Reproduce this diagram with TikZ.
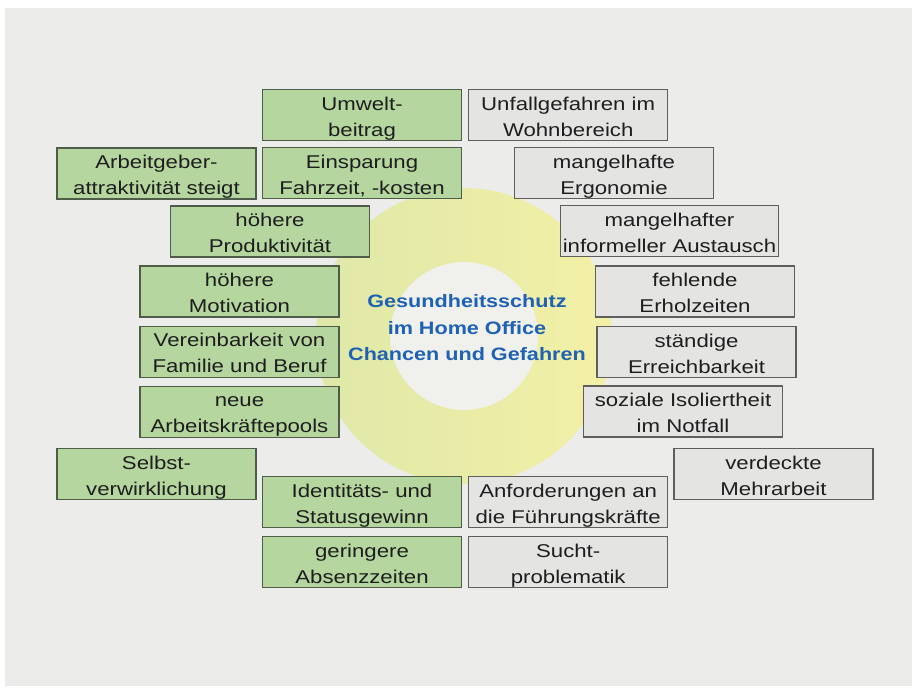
\documentclass[tikz,border=0pt]{standalone}
\usepackage{fontspec}
\setmainfont{Liberation Sans}[FakeStretch=1.2]
\usepackage{tikz}
\usetikzlibrary{positioning}
\definecolor{pagegray}{HTML}{ECEDEA}
\definecolor{chancegreen}{HTML}{B5D69F}
\definecolor{chanceline}{HTML}{4F5C49}
\definecolor{riskgray}{HTML}{E4E5E3}
\definecolor{riskline}{HTML}{5E5F5D}
\definecolor{ringyellow}{HTML}{F3F0A6}
\definecolor{ringgreen}{HTML}{DFE8A9}
\definecolor{innerwhite}{HTML}{F0F0EC}
\definecolor{titleblue}{HTML}{1F62B4}
\definecolor{boxtext}{HTML}{1E1E1E}

\begin{document}
\begin{tikzpicture}[
    x=1pt, y=-1pt,
    node distance=8pt and 6pt,
    box/.style={draw, line width=1.2pt, minimum width=199pt, minimum height=51pt, inner sep=0pt, text height=46pt, text depth=4pt, align=center, font=\fontsize{18.5}{26}\selectfont, text=boxtext},
    chance/.style={box, fill=chancegreen, draw=chanceline},
    risk/.style={box, fill=riskgray, draw=riskline},
    thema/.style={align=center, font=\fontsize{18}{26.5}\selectfont\bfseries, text=titleblue},
]
    % Background and ring
    \useasboundingbox (0,0) rectangle (915,688);
    \fill[white] (0,0) rectangle (915,688);
    \fill[pagegray] (5,8) rectangle (912,686);
    \shade[left color=ringgreen, right color=ringyellow] (464,336) circle[radius=148pt];
    \fill[innerwhite] (464,336) circle[radius=74pt];

    % Chances (left, green)
    \node[chance] (umwelt) at (362,115) {Umwelt-\\beitrag};
    \node[chance, below=6pt of umwelt] (einsparung) {Einsparung\\Fahrzeit, -kosten};
    \node[chance] (arbeitgeber) at (156.5,173.5) {Arbeitgeber-\\attraktivität steigt};
    \node[chance] (produktivitaet) at (270,231.5) {höhere\\Produktivität};
    \node[chance] (motivation) at (239.5,291.5) {höhere\\Motivation};
    \node[chance, below=of motivation] (vereinbarkeit) {Vereinbarkeit von\\Familie und Beruf};
    \node[chance, below=of vereinbarkeit] (pools) {neue\\Arbeitskräftepools};
    \node[chance] (selbst) at (156.5,474) {Selbst-\\verwirklichung};
    \node[chance] (status) at (362,502) {Identitäts- und\\Statusgewinn};
    \node[chance, below=of status] (absenz) {geringere\\Absenzzeiten};

    % Risks (right, gray)
    \node[risk, right=of umwelt] (unfall) {Unfallgefahren im\\Wohnbereich};
    \node[risk] (ergonomie) at (614,173) {mangelhafte\\Ergonomie};
    \node[risk, minimum width=218pt] (austausch) at (669.5,231) {mangelhafter\\informeller Austausch};
    \node[risk] (erholung) at (695,291.5) {fehlende\\Erholzeiten};
    \node[risk] (erreichbar) at (696.5,352) {ständige\\Erreichbarkeit};
    \node[risk] (isolation) at (683,411.5) {soziale Isoliertheit\\im Notfall};
    \node[risk] (mehrarbeit) at (773.5,474) {verdeckte\\Mehrarbeit};
    \node[risk, right=of status] (fuehrung) {Anforderungen an\\die Führungskräfte};
    \node[risk, below=of fuehrung] (sucht) {Sucht-\\problematik};

    % Centre
    \node[thema] (titel) at (467,328) {Gesundheitsschutz\\im Home Office\\Chancen und Gefahren};
\end{tikzpicture}
\end{document}
